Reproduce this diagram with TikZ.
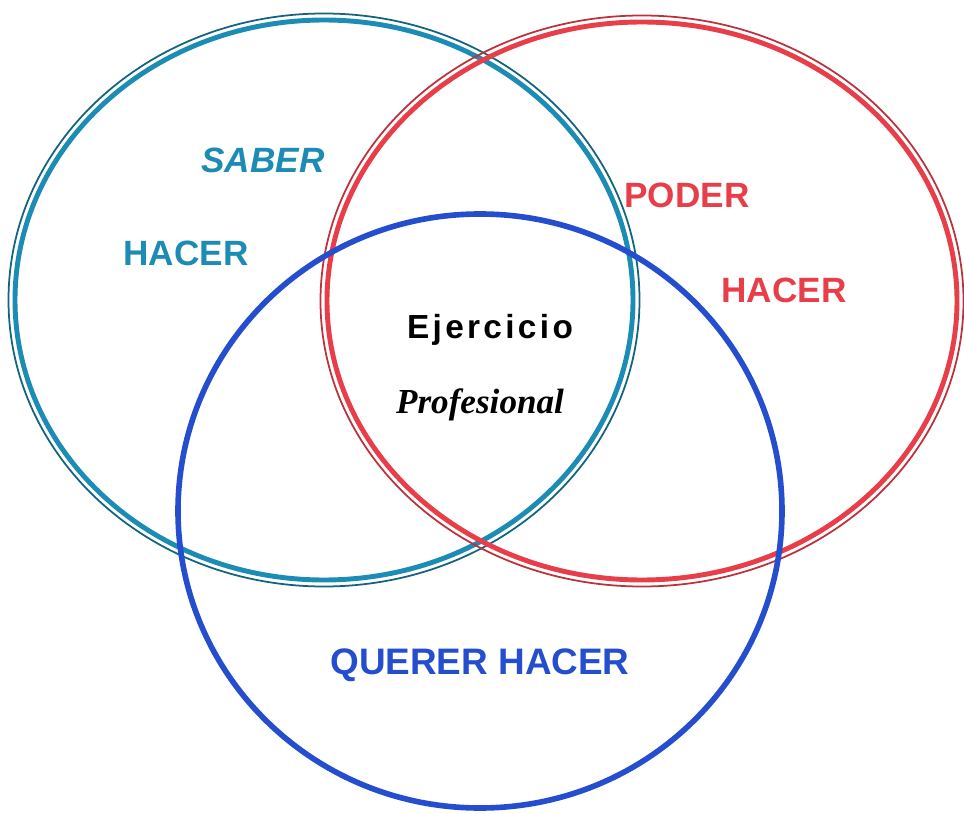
\documentclass[tikz,border=0pt]{standalone}
\usepackage{fontspec}
\setmainfont{Liberation Serif}
\setsansfont{Liberation Sans}
\usepackage{tikz}
\usetikzlibrary{backgrounds}
\definecolor{saber}{RGB}{28,140,180}
\definecolor{poder}{RGB}{232,62,74}
\definecolor{querer}{RGB}{36,78,206}

\begin{document}
\begin{tikzpicture}[x=0.02cm,y=-0.02cm,
  lbl/.style={font=\sffamily\bfseries\fontsize{20}{24}\selectfont},
  ring/.style={line width=2.8pt}]
\useasboundingbox (0,0) rectangle (964,814);
% saber hacer
\draw[saber,ring] (324,300) ellipse (309 and 280);
\draw[saber!70!black,line width=1pt] (324,300) ellipse (315.5 and 286.5);
% poder hacer
\draw[poder,ring] (642,301) ellipse (315 and 279);
\draw[poder!80!black,line width=1pt] (642,301) ellipse (321.5 and 285.5);
% querer hacer
\draw[querer,line width=3.2pt] (480,511) ellipse (302 and 297);
\node[lbl,saber,font=\sffamily\bfseries\itshape\fontsize{20}{24}\selectfont] (saber) at (263,160) {SABER};
\node[lbl,saber] (hacerA) at (186,253) {HACER};
\node[lbl,poder] (poder) at (687,195) {PODER};
\node[lbl,poder] (hacerB) at (784,290) {HACER};
\node[font=\sffamily\bfseries\fontsize{19}{22}\selectfont\addfontfeature{LetterSpace=10}] (ejer) at (490,330) {Ejercicio};
\node[font=\rmfamily\bfseries\itshape\fontsize{20}{24}\selectfont] (prof) at (480,405) {Profesional};
\node[lbl,querer,font=\sffamily\bfseries\fontsize{21}{25}\selectfont] (querer) at (480,665) {QUERER HACER};
\end{tikzpicture}
\end{document}
